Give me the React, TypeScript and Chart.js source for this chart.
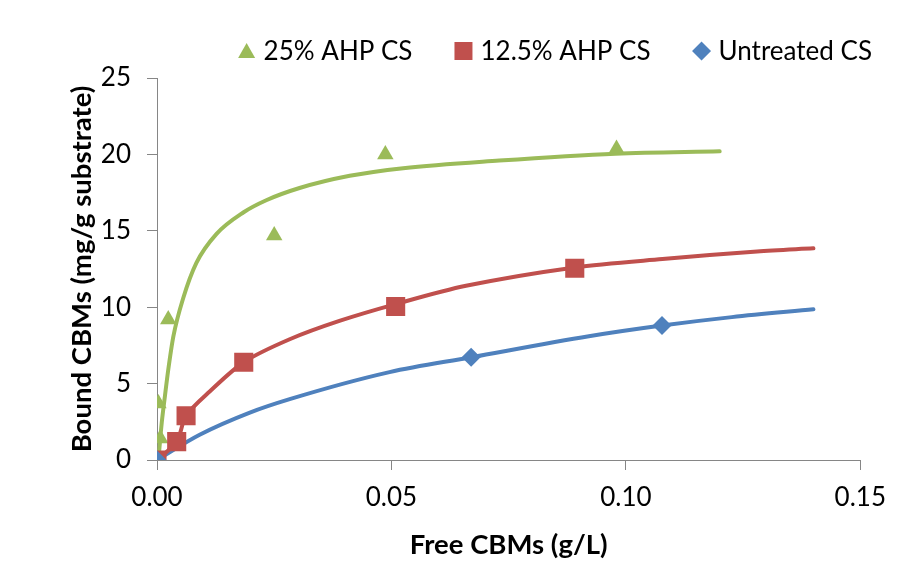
import { useEffect, useRef } from "react";
import { Chart, registerables } from "chart.js";

Chart.register(...registerables);

// ---------- data ----------
const seriesLabels = ["25% AHP CS", "12.5% AHP CS", "Untreated CS"];
const seriesColors = ["#9BBB59", "#C0504D", "#4F81BD"];

// measured points
const green25X = [0.0003, 0.0007, 0.0024, 0.025, 0.0487, 0.098];
const green25Y = [3.7, 1.4, 9.2, 14.7, 20.0, 20.35];

const red125X = [0, 0.0042, 0.0062, 0.0185, 0.0509, 0.0891];
const red125Y = [0, 1.2, 2.9, 6.4, 10.05, 12.55];

const blueUntX = [0, 0.067, 0.1077];
const blueUntY = [0, 6.72, 8.8];

// fitted curves
const green25CurveX = [0.0003, 0.001, 0.0017, 0.0024, 0.0035, 0.0056, 0.0084, 0.0127, 0.0184, 0.0233, 0.0304, 0.0411, 0.0525, 0.073, 0.0978, 0.12];
const green25CurveY = [0, 2.4, 4.2, 5.9, 8.1, 10.6, 12.9, 14.8, 16.2, 17.0, 17.8, 18.6, 19.1, 19.6, 20.05, 20.2];

const red125CurveX = [0, 0.0042, 0.0062, 0.0113, 0.0185, 0.0283, 0.0389, 0.0509, 0.0659, 0.0891, 0.1078, 0.128, 0.14];
const red125CurveY = [0, 1.2, 2.9, 4.5, 6.4, 7.9, 9.1, 10.2, 11.4, 12.6, 13.15, 13.65, 13.85];

const blueUntCurveX = [0, 0.0091, 0.0198, 0.0283, 0.0496, 0.067, 0.0921, 0.1077, 0.1226, 0.14];
const blueUntCurveY = [0, 1.65, 3.1, 3.98, 5.75, 6.72, 8.1, 8.8, 9.35, 9.86];

// axes
const xMin = 0;
const xMax = 0.15;
const xStep = 0.05;
const yMin = 0;
const yMax = 25;
const yStep = 5;
const xTitle = "Free CBMs (g/L)";
const yTitle = "Bound CBMs (mg/g substrate)";

const pointStyles = ["triangle", "rect", "rectRot"];

const zip = (xs: number[], ys: number[]) => xs.map((x, i) => ({ x, y: ys[i] }));

const FONT = "Lato";
const AXIS_COLOR = "#868686";

const legendPlugin = {
  id: "customLegend",
  afterDraw(chart: any) {
    const ctx: CanvasRenderingContext2D = chart.ctx;
    ctx.save();
    ctx.font = `26px ${FONT}`;
    ctx.textBaseline = "alphabetic";
    const right = 864;
    const baseline = 52;
    const midY = 43;
    const markerHalf = 9;
    const markerGap = 8;
    const itemGap = 42;
    const pos: { textX: number; cx: number }[] = [];
    let x = right;
    for (let i = seriesLabels.length - 1; i >= 0; i--) {
      const w = ctx.measureText(seriesLabels[i]).width;
      const textX = x - w;
      const cx = textX - markerGap - markerHalf;
      pos[i] = { textX, cx };
      x = cx - markerHalf - itemGap;
    }
    seriesLabels.forEach((label, i) => {
      const { textX, cx } = pos[i];
      ctx.fillStyle = seriesColors[i];
      ctx.beginPath();
      const st = pointStyles[i];
      if (st === "triangle") {
        ctx.moveTo(cx, midY - 8);
        ctx.lineTo(cx + 8.5, midY + 7);
        ctx.lineTo(cx - 8.5, midY + 7);
      } else if (st === "rect") {
        ctx.rect(cx - 9, midY - 9, 18, 18);
      } else {
        ctx.moveTo(cx, midY - 9.5);
        ctx.lineTo(cx + 9.5, midY);
        ctx.lineTo(cx, midY + 9.5);
        ctx.lineTo(cx - 9.5, midY);
      }
      ctx.closePath();
      ctx.fill();
      ctx.fillStyle = "#000";
      ctx.fillText(label, textX, baseline);
    });
    ctx.restore();
  },
};

export default function App() {
  const ref = useRef<HTMLCanvasElement | null>(null);

  useEffect(() => {
    if (!ref.current) return;
    const curves = [
      zip(green25CurveX, green25CurveY),
      zip(red125CurveX, red125CurveY),
      zip(blueUntCurveX, blueUntCurveY),
    ];
    const points = [
      zip(green25X, green25Y),
      zip(red125X, red125Y),
      zip(blueUntX, blueUntY),
    ];
    const radii = [9.5, 13.5, 9.5];
    const pointOrder = [3, 2, 1];
    const interp = ["monotone", "default", "monotone"];
    const tensions = [0.4, 0.3, 0.4];

    const datasets: any[] = [];
    points.forEach((pts, i) => {
      datasets.push({
        label: seriesLabels[i],
        data: pts,
        showLine: false,
        pointStyle: pointStyles[i],
        pointRadius: radii[i],
        pointHoverRadius: radii[i],
        pointBackgroundColor: seriesColors[i],
        pointBorderColor: seriesColors[i],
        pointBorderWidth: 0,
        order: pointOrder[i],
      });
    });
    curves.forEach((pts, i) => {
      datasets.push({
        label: seriesLabels[i] + " fit",
        data: pts,
        showLine: true,
        borderColor: seriesColors[i],
        borderWidth: 4,
        borderCapStyle: "round",
        pointRadius: 0,
        pointHoverRadius: 0,
        tension: tensions[i],
        cubicInterpolationMode: interp[i],
        fill: false,
        order: 10 + i,
      });
    });

    const chart = new Chart(ref.current, {
      type: "scatter",
      data: { datasets },
      plugins: [legendPlugin],
      options: {
        animation: false,
        responsive: true,
        maintainAspectRatio: false,
        layout: { padding: { left: 0, right: 36, top: 70, bottom: 0 } },
        plugins: {
          legend: { display: false },
          tooltip: { enabled: false },
        },
        scales: {
          x: {
            type: "linear",
            min: xMin,
            max: xMax,
            afterFit: (s: any) => {
              s.height = 102;
            },
            ticks: {
              stepSize: xStep,
              color: "#000",
              padding: 12,
              font: { family: FONT, size: 26 },
              callback: (v: any) => Number(v).toFixed(2),
            },
            grid: {
              drawOnChartArea: false,
              drawTicks: true,
              tickLength: 10,
              color: AXIS_COLOR,
            },
            border: { display: true, color: AXIS_COLOR, width: 1 },
            title: {
              display: true,
              text: xTitle,
              color: "#000",
              font: { family: FONT, size: 27.5, weight: "bold", lineHeight: 1 },
              padding: { top: 0, bottom: 3 },
            },
          },
          y: {
            type: "linear",
            min: yMin,
            max: yMax,
            afterFit: (s: any) => {
              s.width = 149;
            },
            ticks: {
              stepSize: yStep,
              color: "#000",
              padding: 16,
              font: { family: FONT, size: 26 },
            },
            grid: {
              drawOnChartArea: false,
              drawTicks: true,
              tickLength: 10,
              color: AXIS_COLOR,
            },
            border: { display: true, color: AXIS_COLOR, width: 1 },
            title: {
              display: true,
              text: yTitle,
              color: "#000",
              font: { family: FONT, size: 27.5, weight: "bold", lineHeight: 1 },
              padding: { top: 60, bottom: 0 },
            },
          },
        },
      },
    });
    return () => chart.destroy();
  }, []);

  return (
    <div style={{ width: 890, height: 554, position: "relative" }}>
      <canvas ref={ref} />
    </div>
  );
}
